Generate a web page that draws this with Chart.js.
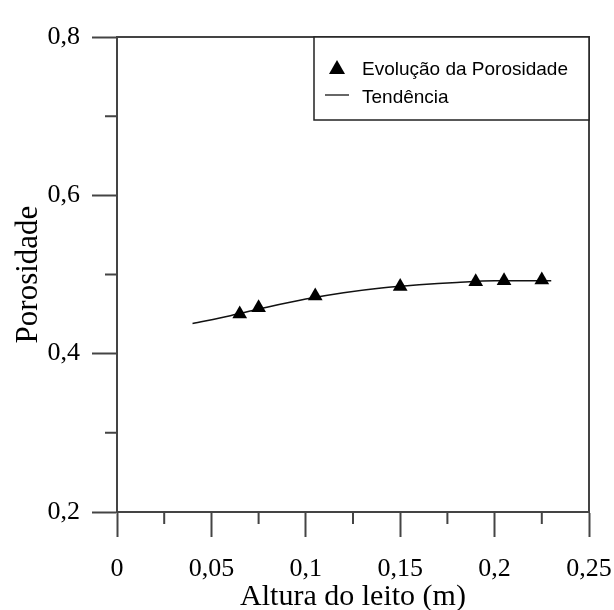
<!DOCTYPE html>
<html>
<head>
<meta charset="utf-8">
<script src="https://cdn.jsdelivr.net/npm/chart.js@4/dist/chart.umd.min.js"></script>
<style>
  html, body { margin: 0; padding: 0; background: #fff; }
  #wrap { width: 614px; height: 610px; }
</style>
</head>
<body>
<div id="wrap"><canvas id="poro"></canvas></div>
<script>
// measured points (bed height in m, porosity)
const alturaPts = [0.065, 0.075, 0.105, 0.15, 0.19, 0.205, 0.225];
const porosidadePts = [0.450, 0.458, 0.473, 0.485, 0.491, 0.492, 0.493];

// trend curve
const tendX = [0.04, 0.06, 0.08, 0.10, 0.12, 0.14, 0.16, 0.18, 0.20, 0.22, 0.23];
const tendY = [0.438, 0.448, 0.459, 0.469, 0.477, 0.483, 0.487, 0.490, 0.492, 0.492, 0.492];

const xMinorTicks = [0.025, 0.075, 0.125, 0.175, 0.225];
const yMinorTicks = [0.3, 0.5, 0.7];

const legendLabels = ['Evolução da Porosidade', 'Tendência'];

const axisColor = '#444';
const serif = 'Liberation Serif';

function fmt(v) {
  return String(+v.toFixed(3)).replace('.', ',');
}

// frame, minor ticks and the boxed legend
const extras = {
  id: 'extras',
  afterDraw(chart) {
    const ctx = chart.ctx;
    const a = chart.chartArea;
    const xs = chart.scales.x, ys = chart.scales.y;
    ctx.save();
    ctx.strokeStyle = axisColor;
    ctx.lineWidth = 2;
    ctx.beginPath();
    ctx.moveTo(a.left, a.top);
    ctx.lineTo(a.right, a.top);
    ctx.lineTo(a.right, a.bottom);
    ctx.stroke();

    ctx.beginPath();
    xMinorTicks.forEach(v => {
      const px = xs.getPixelForValue(v);
      ctx.moveTo(px, a.bottom);
      ctx.lineTo(px, a.bottom + 12);
    });
    yMinorTicks.forEach(v => {
      const py = ys.getPixelForValue(v);
      ctx.moveTo(a.left, py);
      ctx.lineTo(a.left - 12, py);
    });
    ctx.stroke();

    // legend
    const bx = a.right - 275, by = a.top, bw = 275, bh = 83;
    ctx.fillStyle = '#fff';
    ctx.fillRect(bx, by, bw, bh);
    ctx.strokeStyle = '#222';
    ctx.lineWidth = 1.5;
    ctx.strokeRect(bx, by, bw, bh);

    ctx.fillStyle = '#000';
    const tx = bx + 23, ty = by + 31;
    ctx.beginPath();
    ctx.moveTo(tx, ty - 8);
    ctx.lineTo(tx + 8, ty + 6);
    ctx.lineTo(tx - 8, ty + 6);
    ctx.closePath();
    ctx.fill();

    ctx.strokeStyle = '#000';
    ctx.lineWidth = 1.2;
    ctx.beginPath();
    ctx.moveTo(bx + 11, by + 58);
    ctx.lineTo(bx + 35, by + 58);
    ctx.stroke();

    ctx.font = '19px "Liberation Sans"';
    ctx.textBaseline = 'alphabetic';
    ctx.textAlign = 'left';
    ctx.fillText(legendLabels[0], bx + 48, by + 38);
    ctx.fillText(legendLabels[1], bx + 48, by + 66);
    ctx.restore();
  }
};

new Chart(document.getElementById('poro'), {
  type: 'scatter',
  data: {
    datasets: [
      {
        label: legendLabels[1],
        data: tendX.map((x, i) => ({ x: x, y: tendY[i] })),
        showLine: true,
        borderColor: '#111',
        borderWidth: 1.5,
        pointRadius: 0,
        cubicInterpolationMode: 'monotone',
        order: 2
      },
      {
        label: legendLabels[0],
        data: alturaPts.map((x, i) => ({ x: x, y: porosidadePts[i] })),
        pointStyle: 'triangle',
        pointRadius: 8.5,
        backgroundColor: '#000',
        borderColor: '#000',
        borderWidth: 0,
        order: 1
      }
    ]
  },
  options: {
    responsive: true,
    maintainAspectRatio: false,
    animation: false,
    layout: { padding: { top: 37, right: 25, left: 0, bottom: 0 } },
    plugins: {
      legend: { display: false },
      tooltip: { enabled: false }
    },
    scales: {
      x: {
        type: 'linear',
        min: 0,
        max: 0.25,
        afterFit(scale) {
          scale.height = 98;
          scale.paddingLeft = 0;
          scale.paddingRight = 0;
        },
        ticks: {
          stepSize: 0.05,
          color: '#000',
          font: { family: serif, size: 26 },
          padding: 17,
          maxRotation: 0,
          callback: v => fmt(v)
        },
        grid: {
          drawOnChartArea: false,
          drawTicks: true,
          tickLength: 25,
          tickColor: axisColor,
          tickWidth: 2
        },
        border: { display: true, color: axisColor, width: 2 },
        title: {
          display: true,
          text: 'Altura do leito (m)',
          color: '#000',
          font: { family: serif, size: 30 },
          padding: { top: 0, bottom: -5 }
        }
      },
      y: {
        type: 'linear',
        min: 0.2,
        max: 0.8,
        afterFit(scale) { scale.width = 117; },
        ticks: {
          stepSize: 0.2,
          color: '#000',
          font: { family: serif, size: 26 },
          padding: 12,
          callback: v => fmt(v)
        },
        grid: {
          drawOnChartArea: false,
          drawTicks: true,
          tickLength: 25,
          tickColor: axisColor,
          tickWidth: 2
        },
        border: { display: true, color: axisColor, width: 2 },
        title: {
          display: true,
          text: 'Porosidade',
          color: '#000',
          font: { family: serif, size: 31 },
          padding: { top: 10, bottom: 0 }
        }
      }
    }
  },
  plugins: [extras]
});
</script>
</body>
</html>
